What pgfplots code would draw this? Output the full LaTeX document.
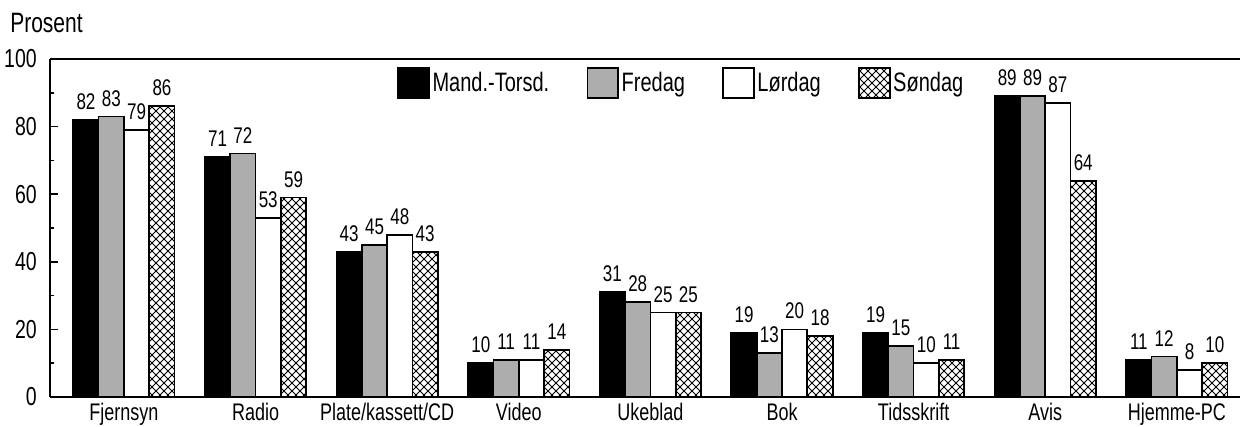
\documentclass[border=0pt]{standalone}
\usepackage{fontspec}
\setmainfont[FakeStretch=0.75]{Liberation Sans}
\usepackage{pgfplots}
\usepackage{pgfplotstable}
\pgfplotsset{compat=1.18}
\usetikzlibrary{patterns}
\pgfdeclarepatternformonly{xhatch}{\pgfqpoint{-1pt}{-1pt}}{\pgfqpoint{7pt}{7pt}}{\pgfqpoint{6pt}{6pt}}{%
  \pgfsetlinewidth{0.7pt}%
  \pgfpathmoveto{\pgfqpoint{0pt}{0pt}}\pgfpathlineto{\pgfqpoint{6pt}{6pt}}%
  \pgfpathmoveto{\pgfqpoint{0pt}{6pt}}\pgfpathlineto{\pgfqpoint{6pt}{0pt}}%
  \pgfusepath{stroke}}

\pgfplotstableread{
x a b c d
0 82 83 79 86
1 71 72 53 59
2 43 45 48 43
3 10 11 11 14
4 31 28 25 25
5 19 13 20 18
6 19 15 10 11
7 89 89 87 64
8 11 12 8 10
}\data

\begin{document}
\begin{tikzpicture}
\begin{axis}[
  name=ax, scale only axis, width=892.5pt, height=253.5pt,
  xmin=-0.562, xmax=8.48, ymin=0, ymax=100,
  ybar=0pt, bar width=19pt,
  axis x line=box, axis y line=left,
  axis line style={-, line width=1.5pt},
  xtick={0,...,8},
  xticklabels={Fjernsyn,Radio,Plate/kassett/CD,Video,Ukeblad,Bok,Tidsskrift,Avis,Hjemme-PC},
  x tick style={draw=none},
  ytick={0,20,...,100}, minor y tick num=1,
  tick align=inside, major tick length=6pt, minor tick length=3pt,
  y tick style={line width=1.2pt, black},
  /pgf/number format/assume math mode=true,
  yticklabel style={font=\fontsize{19.5}{21}\selectfont, inner sep=0pt, xshift=-9.75pt},
  xticklabel style={font=\fontsize{18}{20}\selectfont, inner sep=0pt, yshift=-4.5pt},
  nodes near coords,
  nodes near coords style={font=\fontsize{17}{18}\selectfont, inner sep=0pt, yshift=7pt, black},
  legend image code/.code={\draw[#1] (0pt,-11.25pt) rectangle (23pt,11.25pt);},
  legend style={at={(0.292,0.976)}, anchor=north west, draw=none, fill=none,
    inner sep=0pt, outer sep=0pt, legend columns=4,
    font=\fontsize{20}{22}\selectfont,
    nodes={inner sep=2pt, anchor=west},
    /tikz/every even column/.append style={column sep=26pt}},
]
\addplot[fill=black, draw=black, line width=1.3pt] table[x=x,y=a]{\data};
\addplot[fill=black!32, draw=black, line width=1.3pt] table[x=x,y=b]{\data};
\addplot[fill=white, draw=black, line width=1.3pt] table[x=x,y=c]{\data};
\addplot[pattern=xhatch, draw=black, line width=1.3pt] table[x=x,y=d]{\data};
\legend{Mand.-Torsd.,Fredag,Lørdag,Søndag}
\end{axis}
\node[anchor=base west, font=\fontsize{21}{23}\selectfont, inner sep=0pt] at ([shift={(-30pt,19.5pt)}]ax.north west) {Prosent};
\pgfresetboundingbox
\path ([shift={(-37.5pt,-22.5pt)}]ax.south west) rectangle ++(932.25pt,320.25pt);
\end{tikzpicture}
\end{document}
